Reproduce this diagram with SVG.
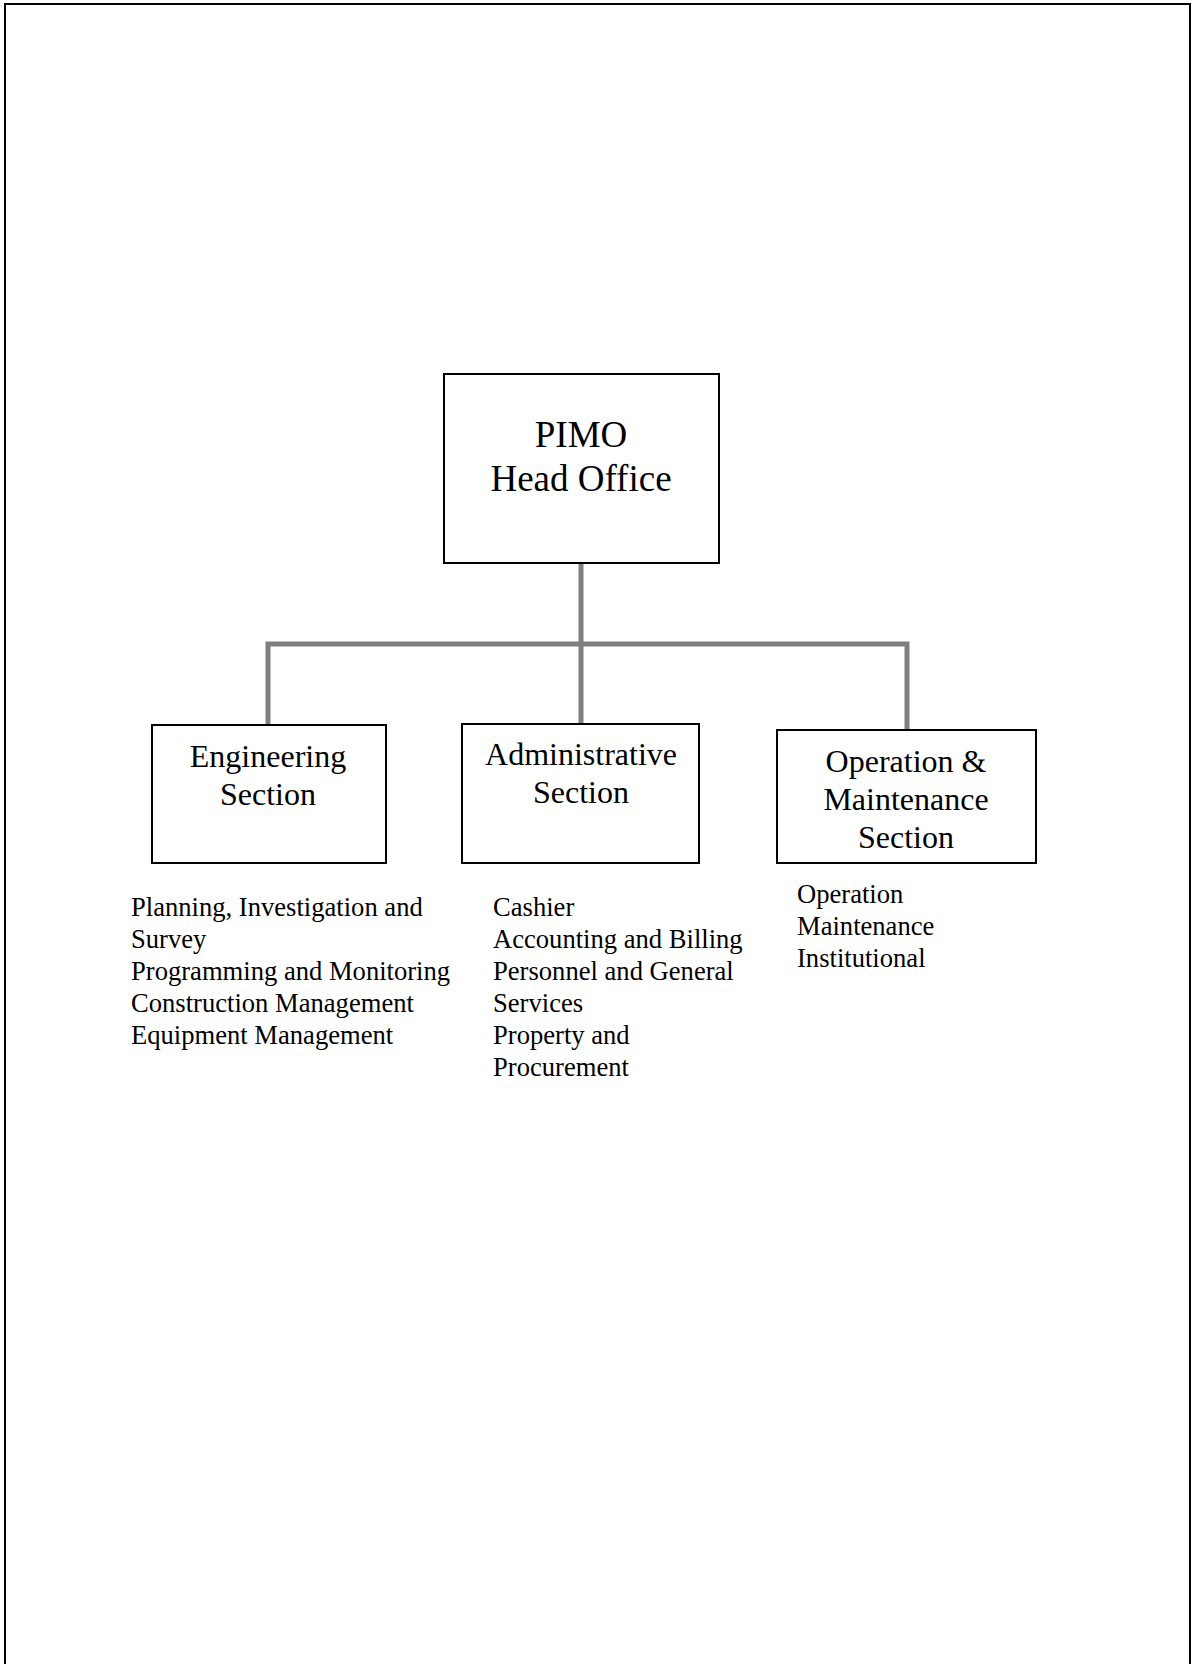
<svg xmlns="http://www.w3.org/2000/svg" width="1192" height="1664" viewBox="0 0 1192 1664">
  <style>
    .box { fill: #ffffff; stroke: #000000; stroke-width: 2; }
    .title { font-family: "Liberation Serif", "Times New Roman", serif; font-size: 37px; fill: #000000; text-anchor: middle; }
    .sect { font-family: "Liberation Serif", "Times New Roman", serif; font-size: 32px; fill: #000000; text-anchor: middle; }
    .item { font-family: "Liberation Serif", "Times New Roman", serif; font-size: 26.6px; fill: #000000; }
    .link { fill: none; stroke: #808080; stroke-width: 5; }
  </style>

  <rect width="1192" height="1664" fill="#ffffff"/>

  <!-- page frame (open at the bottom) -->
  <path d="M5,1664 V4 H1190 V1664" fill="none" stroke="#000000" stroke-width="2"/>

  <!-- connectors -->
  <g id="connectors">
    <path class="link" d="M581,563 V725"/>
    <path class="link" d="M268,725 V644 H907 V729"/>
  </g>

  <!-- head office -->
  <g id="head-office">
    <rect class="box" x="444" y="374" width="275" height="189"/>
    <text class="title" x="581" y="447">PIMO</text>
    <text class="title" x="581" y="491">Head Office</text>
  </g>

  <!-- engineering section -->
  <g id="engineering">
    <rect class="box" x="152" y="725" width="234" height="138"/>
    <text class="sect" x="268" y="767">Engineering</text>
    <text class="sect" x="268" y="805">Section</text>
  </g>
  <g id="engineering-units">
    <text class="item" x="131" y="916">Planning, Investigation and</text>
    <text class="item" x="131" y="948">Survey</text>
    <text class="item" x="131" y="980">Programming and Monitoring</text>
    <text class="item" x="131" y="1012">Construction Management</text>
    <text class="item" x="131" y="1044">Equipment Management</text>
  </g>

  <!-- administrative section -->
  <g id="administrative">
    <rect class="box" x="462" y="724" width="237" height="139"/>
    <text class="sect" x="581" y="765">Administrative</text>
    <text class="sect" x="581" y="803">Section</text>
  </g>
  <g id="administrative-units">
    <text class="item" x="493" y="916">Cashier</text>
    <text class="item" x="493" y="948">Accounting and Billing</text>
    <text class="item" x="493" y="980">Personnel and General</text>
    <text class="item" x="493" y="1012">Services</text>
    <text class="item" x="493" y="1044">Property and</text>
    <text class="item" x="493" y="1076">Procurement</text>
  </g>

  <!-- operation and maintenance section -->
  <g id="operation-maintenance">
    <rect class="box" x="777" y="730" width="259" height="133"/>
    <text class="sect" x="906" y="772">Operation &amp;</text>
    <text class="sect" x="906" y="810">Maintenance</text>
    <text class="sect" x="906" y="848">Section</text>
  </g>
  <g id="operation-maintenance-units">
    <text class="item" x="797" y="903">Operation</text>
    <text class="item" x="797" y="935">Maintenance</text>
    <text class="item" x="797" y="967">Institutional</text>
  </g>
</svg>
